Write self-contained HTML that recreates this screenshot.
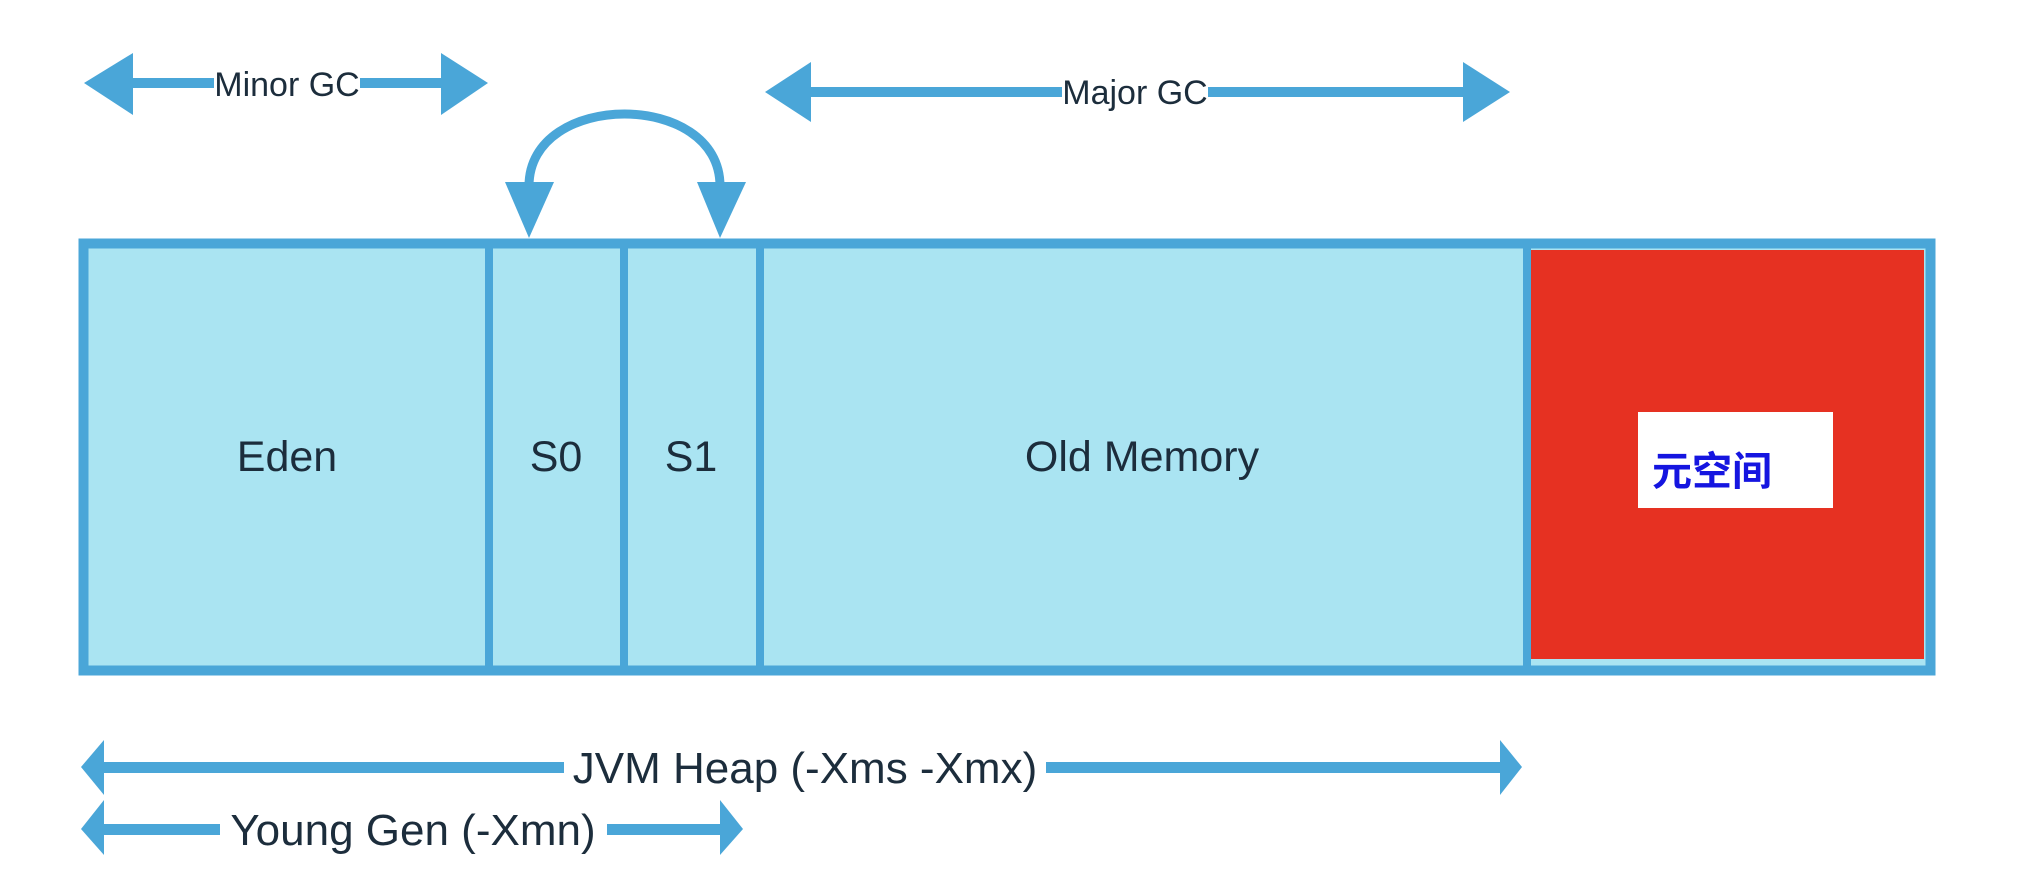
<!DOCTYPE html>
<html><head><meta charset="utf-8"><style>
html,body{margin:0;padding:0;background:#fff;width:2034px;height:874px;overflow:hidden}
svg{display:block}
.t{font-family:"Liberation Sans",sans-serif;fill:#1c2d3c}
</style></head><body>
<svg width="2034" height="874" viewBox="0 0 2034 874" xmlns="http://www.w3.org/2000/svg">
<g fill="#4aa6d8" stroke="none">
<!-- Minor GC -->
<rect x="130" y="78" width="84" height="10"/>
<rect x="360" y="78" width="84" height="10"/>
<polygon points="84,83 133,53 133,115"/>
<polygon points="488,83 441,53 441,115"/>
<!-- Major GC -->
<rect x="808" y="87" width="254" height="10"/>
<rect x="1208" y="87" width="258" height="10"/>
<polygon points="765,92 811,62 811,122"/>
<polygon points="1510,92 1463,62 1463,122"/>
<!-- JVM heap -->
<rect x="100" y="762" width="464" height="11"/>
<rect x="1046" y="762" width="457" height="11"/>
<polygon points="81,767 104,740 104,795"/>
<polygon points="1522,767 1500,740 1500,795"/>
<!-- Young gen -->
<rect x="100" y="824" width="120" height="11"/>
<rect x="607" y="824" width="116" height="11"/>
<polygon points="81,829 104,800 104,855"/>
<polygon points="743,829 720,800 720,855"/>
<!-- curved arrow heads -->
<polygon points="505,182 554,182 529,238"/>
<polygon points="697,182 746,182 720,238"/>
</g>
<path d="M529,186 C529,90 720,90 720,186" fill="none" stroke="#4aa6d8" stroke-width="9"/>
<!-- main box -->
<rect x="83.5" y="243.5" width="1847" height="427" fill="#aae4f2" stroke="#4aa6d8" stroke-width="10"/>
<rect x="1531" y="250" width="393" height="409" fill="#e63122"/>
<g fill="#4aa6d8">
<rect x="485" y="244" width="8" height="428"/>
<rect x="620" y="244" width="8" height="428"/>
<rect x="756" y="244" width="8" height="428"/>
<rect x="1523" y="244" width="8" height="428"/>
</g>
<rect x="1638" y="412" width="195" height="96" fill="#fff"/>
<g class="t" font-size="43" text-anchor="middle">
<text x="287" y="471">Eden</text>
<text x="556" y="471">S0</text>
<text x="691" y="471">S1</text>
<text x="1142" y="471">Old Memory</text>
</g>
<text x="1652" y="485" font-family="'Liberation Sans','Noto Sans CJK SC',sans-serif" font-size="40" font-weight="bold" fill="#1515e0">元空间</text>
<text class="t" x="287" y="96" font-size="34" text-anchor="middle">Minor GC</text>
<text class="t" x="1135" y="104" font-size="34" text-anchor="middle">Major GC</text>
<text class="t" x="805" y="783" font-size="44" text-anchor="middle">JVM Heap (-Xms -Xmx)</text>
<text class="t" x="413" y="845" font-size="44" text-anchor="middle">Young Gen (-Xmn)</text>
</svg>
</body></html>
